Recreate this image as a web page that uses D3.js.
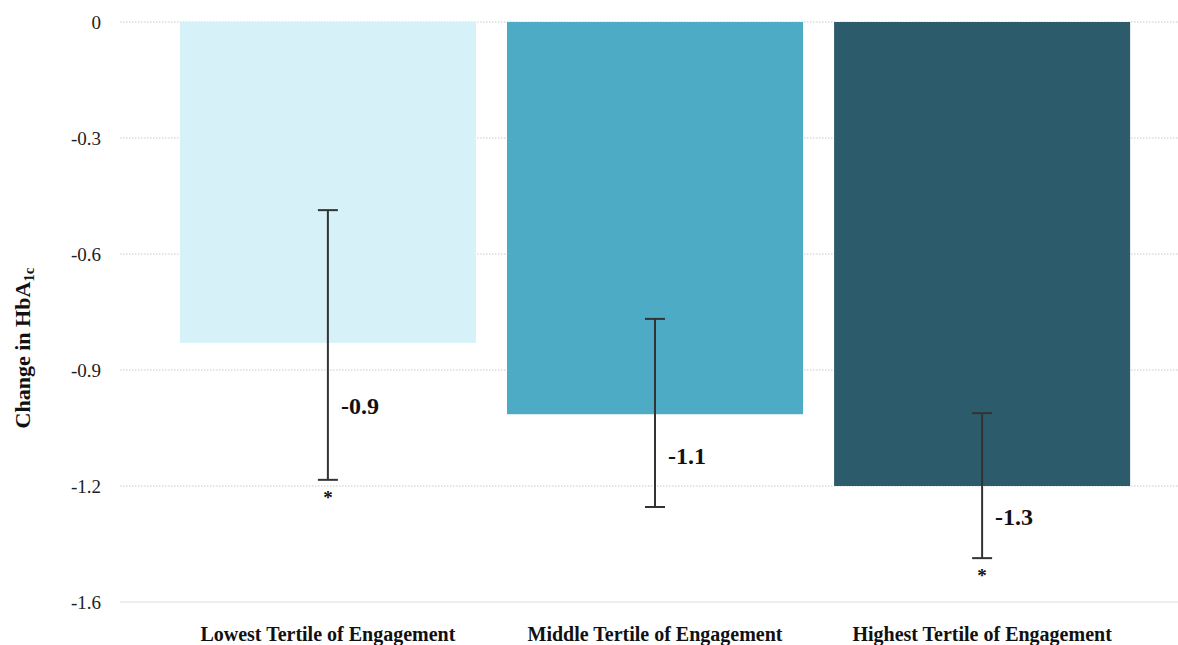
<!DOCTYPE html>
<html>
<head>
<meta charset="utf-8">
<script src="https://cdn.jsdelivr.net/npm/d3@7"></script>
<style>
  html, body { margin: 0; padding: 0; background: #fff; }
  svg { display: block; }
  svg text { font-family: "Liberation Serif", "Times New Roman", Times, "DejaVu Serif", serif; }
</style>
</head>
<body>
<svg id="chart" width="1178" height="645"></svg>
<script>
// ---- data ----
const categories = ["Lowest Tertile of Engagement", "Middle Tertile of Engagement", "Highest Tertile of Engagement"];
const means = [-0.885, -1.082, -1.28];
const ciUpper = [-0.519, -0.819, -1.079];
const ciLower = [-1.263, -1.338, -1.479];
const valueLabels = ["-0.9", "-1.1", "-1.3"];
const significant = [true, false, true];
const barColors = ["#d6f1f7", "#4eabc6", "#2c5b6b"];
const tickValues = [0, -0.32, -0.64, -0.96, -1.28, -1.6];
const tickLabels = ["0", "-0.3", "-0.6", "-0.9", "-1.2", "-1.6"];

// ---- layout ----
const svg = d3.select("#chart");
const gridLeft = 120, gridRight = 1178;
const y = d3.scaleLinear().domain([0, -1.6]).range([22, 602]);
const x = d3.scaleBand().domain(categories).range([164.5, 1145.5]).paddingInner(0.095).paddingOuter(0.047);

// grid lines
svg.append("g").selectAll("line")
  .data(tickValues)
  .join("line")
  .attr("x1", gridLeft).attr("x2", gridRight)
  .attr("y1", d => y(d)).attr("y2", d => y(d))
  .attr("stroke", (d, i) => i === tickValues.length - 1 ? "#dcdcdc" : "#c8c8c8")
  .attr("stroke-width", 1)
  .attr("stroke-dasharray", (d, i) => i === tickValues.length - 1 ? null : "1.5,1.5");

// y axis labels via d3 axis
const yAxis = d3.axisLeft(y).tickValues(tickValues).tickFormat((d, i) => tickLabels[i]).tickSize(0).tickPadding(0);
const yg = svg.append("g").attr("transform", "translate(101,0)").call(yAxis);
yg.attr("font-family", null);
yg.select(".domain").remove();
yg.selectAll("text")
  .attr("font-size", 19)
  .attr("fill", "#222");

// bars
svg.append("g").selectAll("rect")
  .data(categories)
  .join("rect")
  .attr("x", d => x(d))
  .attr("width", x.bandwidth())
  .attr("y", y(0))
  .attr("height", (d, i) => y(means[i]) - y(0))
  .attr("fill", (d, i) => barColors[i]);

// error bars
const eg = svg.append("g").attr("stroke", "#333").attr("stroke-width", 2);
categories.forEach((c, i) => {
  const cx = x(c) + x.bandwidth() / 2;
  eg.append("line").attr("x1", cx).attr("x2", cx).attr("y1", y(ciUpper[i])).attr("y2", y(ciLower[i]));
  eg.append("line").attr("x1", cx - 10).attr("x2", cx + 10).attr("y1", y(ciUpper[i])).attr("y2", y(ciUpper[i]));
  eg.append("line").attr("x1", cx - 10).attr("x2", cx + 10).attr("y1", y(ciLower[i])).attr("y2", y(ciLower[i]));
});

// value labels
svg.append("g").selectAll("text")
  .data(categories)
  .join("text")
  .attr("x", d => x(d) + x.bandwidth() / 2 + 13)
  .attr("y", (d, i) => y((means[i] + ciLower[i]) / 2) + 3)
  .attr("font-size", 24)
  .attr("font-weight", "bold")
  .attr("fill", "#111")
  .text((d, i) => valueLabels[i]);

// significance asterisks
svg.append("g").selectAll("text")
  .data(categories.filter((d, i) => significant[i]))
  .join("text")
  .attr("x", d => x(d) + x.bandwidth() / 2)
  .attr("y", d => y(ciLower[categories.indexOf(d)]) + 24)
  .attr("text-anchor", "middle")
  .attr("font-size", 19)
  .attr("font-weight", "bold")
  .attr("fill", "#111")
  .text("*");

// x axis category labels
const xAxis = d3.axisBottom(x).tickSize(0).tickPadding(0);
const xg = svg.append("g").attr("transform", "translate(0,641)").call(xAxis);
xg.attr("font-family", null);
xg.select(".domain").remove();
xg.selectAll("text")
  .attr("dy", 0)
  .attr("font-size", 20)
  .attr("font-weight", "bold")
  .attr("fill", "#111");

// y axis title
const t = svg.append("text")
  .attr("transform", "translate(30,348) rotate(-90)")
  .attr("text-anchor", "middle")
  .attr("font-size", 22)
  .attr("font-weight", "bold")
  .attr("fill", "#111");
t.append("tspan").text("Change in HbA");
t.append("tspan").attr("font-size", 15).attr("dy", 4).text("1c");
</script>
</body>
</html>
